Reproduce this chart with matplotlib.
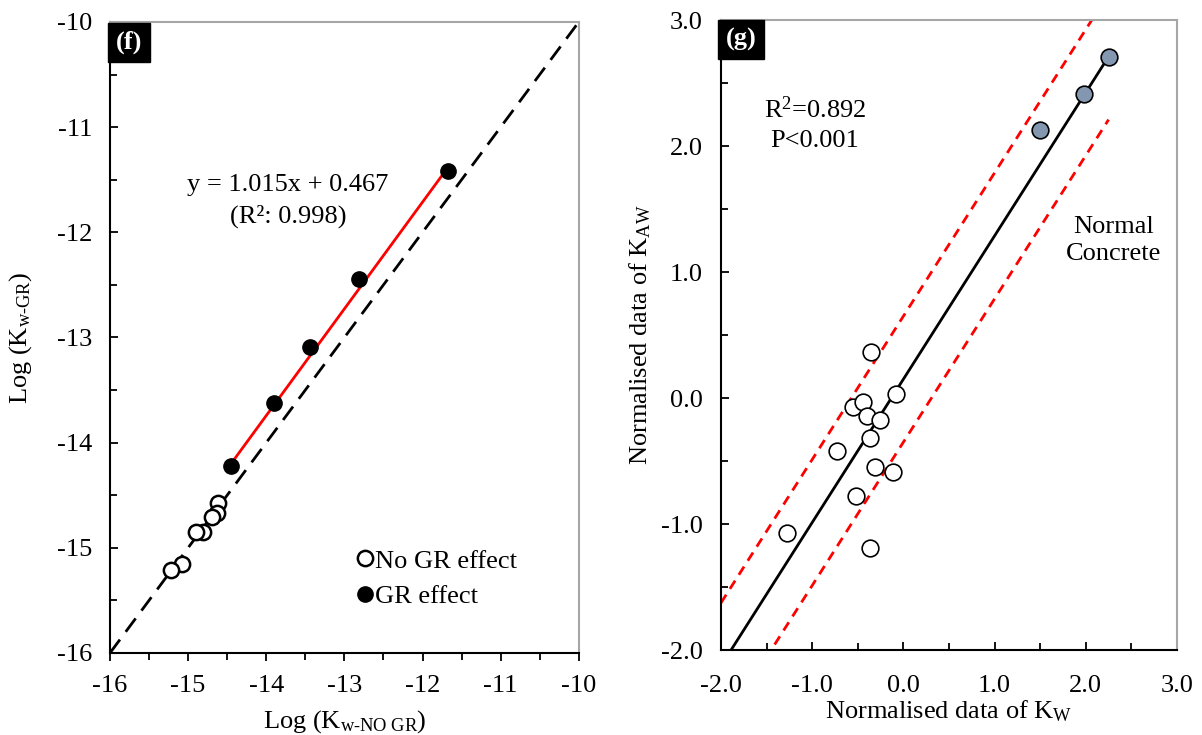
import matplotlib
matplotlib.use("Agg")
import matplotlib.pyplot as plt
import numpy as np
from matplotlib.ticker import MultipleLocator, FormatStrFormatter

plt.rcParams.update({
    "font.family": "Liberation Serif",
    "font.size": 19,
    "mathtext.fontset": "custom",
    "mathtext.rm": "Liberation Serif",
    "mathtext.it": "Liberation Serif:italic",
    "axes.unicode_minus": False,
})

# ---- panel (f): log permeability, with vs without GR ----
no_gr_x = [-14.62, -14.63, -14.69, -14.81, -14.90, -15.08, -15.22]
no_gr_y = [-14.57, -14.67, -14.71, -14.85, -14.85, -15.15, -15.21]
gr_x = [-14.45, -13.90, -13.44, -12.81, -11.68]
gr_y = [-14.22, -13.62, -13.09, -12.44, -11.42]
f_slope, f_intercept = 1.015, 0.467
f_lim = (-16, -10)

# ---- panel (g): normalised K_W vs K_AW ----
open_x = [-0.355, -0.078, -0.556, -0.446, -0.402, -0.253, -0.366,
          -0.731, -0.308, -0.114, -0.520, -1.280, -0.363]
open_y = [0.363, 0.034, -0.069, -0.034, -0.143, -0.177, -0.317,
          -0.423, -0.545, -0.590, -0.775, -1.071, -1.188]
grey_x = [2.25, 1.98, 1.50]
grey_y = [2.71, 2.41, 2.13]
g_slope, g_intercept = 1.138, 0.15
g_band = 0.5
g_xrange = (-2.0, 2.25)
g_xlim = (-2.0, 3.0)
g_ylim = (-2.0, 3.0)

fig = plt.figure(figsize=(12.02, 7.35), dpi=100)
ax1 = fig.add_axes([0.0915, 0.1116, 0.390, 0.8585])
ax2 = fig.add_axes([0.5998, 0.1156, 0.3794, 0.857])


def style_axes(ax, xdir, xpad):
    for s in ("top", "right"):
        ax.spines[s].set_color("#A6A6A6")
        ax.spines[s].set_linewidth(1.5)
    for s in ("left", "bottom"):
        ax.spines[s].set_color("black")
        ax.spines[s].set_linewidth(1.5)
    ax.tick_params(axis="y", which="both", direction="in", width=1.3, left=True, right=False)
    ax.tick_params(axis="x", which="both", direction=xdir, width=1.3, top=False)
    ax.tick_params(which="major", length=6)
    ax.tick_params(which="minor", length=5)
    ax.tick_params(axis="y", pad=13)
    ax.tick_params(axis="x", pad=xpad)


# panel (f)
ax1.plot(f_lim, f_lim, color="black", ls=(0, (6, 3.5)), lw=2, zorder=1)
fx = np.array([gr_x[0], gr_x[-1]])
ax1.plot(fx, f_slope * fx + f_intercept, color="red", lw=2, zorder=2)
ax1.plot(no_gr_x, no_gr_y, "o", ms=11, mfc="white", mec="black", mew=1.8,
         ls="none", label="No GR effect", zorder=3)
ax1.plot(gr_x, gr_y, "o", ms=11, mfc="black", mec="black",
         ls="none", label="GR effect", zorder=3)
ax1.set_xlim(f_lim)
ax1.set_ylim(f_lim)
ax1.xaxis.set_major_locator(MultipleLocator(1))
ax1.yaxis.set_major_locator(MultipleLocator(1))
ax1.xaxis.set_minor_locator(MultipleLocator(0.5))
ax1.yaxis.set_minor_locator(MultipleLocator(0.5))
style_axes(ax1, "out", 10)
ax1.set_xlabel("Log (K$_{\\mathrm{w‐NO\\ GR}}$)", labelpad=8)
ax1.set_ylabel("Log (K$_{\\mathrm{w‐GR}}$)", labelpad=16)
ax1.text(-13.72, -11.55, "y = 1.015x + 0.467", ha="center", va="center")
ax1.text(-13.72, -11.85, "(R²: 0.998)", ha="center", va="center")
ax1.legend(loc="center left", bbox_to_anchor=(0.49, 0.118), frameon=False,
           handlelength=0.5, handletextpad=0.12, labelspacing=0.45,
           markerscale=1.0, borderpad=0.2)
ax1.text(0.012, 0.986, "(f)", transform=ax1.transAxes, ha="left", va="top",
         color="white", fontweight="bold",
         bbox=dict(boxstyle="square,pad=0.3", facecolor="black", edgecolor="black"))

# panel (g)
gx = np.array(g_xrange)
ax2.plot(gx, g_slope * gx + g_intercept, color="black", lw=2, zorder=2)
ax2.plot(gx, g_slope * gx + g_intercept + g_band, color="red", lw=2,
         ls=(0, (3.5, 2.5)), zorder=1)
ax2.plot(gx, g_slope * gx + g_intercept - g_band, color="red", lw=2,
         ls=(0, (3.5, 2.5)), zorder=1)
ax2.plot(open_x, open_y, "o", ms=12, mfc="white", mec="black", mew=1.2,
         ls="none", zorder=3)
ax2.plot(grey_x, grey_y, "o", ms=12, mfc="#8497B0", mec="black", mew=1.2,
         ls="none", zorder=3)
ax2.set_xlim(g_xlim)
ax2.set_ylim(g_ylim)
ax2.xaxis.set_major_locator(MultipleLocator(1))
ax2.yaxis.set_major_locator(MultipleLocator(1))
ax2.xaxis.set_minor_locator(MultipleLocator(0.5))
ax2.yaxis.set_minor_locator(MultipleLocator(0.5))
ax2.xaxis.set_major_formatter(FormatStrFormatter("%.1f"))
ax2.yaxis.set_major_formatter(FormatStrFormatter("%.1f"))
style_axes(ax2, "in", 18)
ax2.set_xlabel("Normalised data of K$_{\\mathrm{W}}$", labelpad=1)
ax2.set_ylabel("Normalised data of K$_{\\mathrm{AW}}$", labelpad=6)
ax2.text(-0.97, 2.29, "R$^{2}$=0.892", ha="center", va="center")
ax2.text(-0.97, 2.04, "P<0.001", ha="center", va="center")
ax2.text(2.3, 1.25, "Normal\nConcrete", ha="center", va="center", linespacing=1.25)
ax2.text(0.01, 0.988, "(g)", transform=ax2.transAxes, ha="left", va="top",
         color="white", fontweight="bold",
         bbox=dict(boxstyle="square,pad=0.3", facecolor="black", edgecolor="black"))

fig.savefig("out.png", dpi=100)
